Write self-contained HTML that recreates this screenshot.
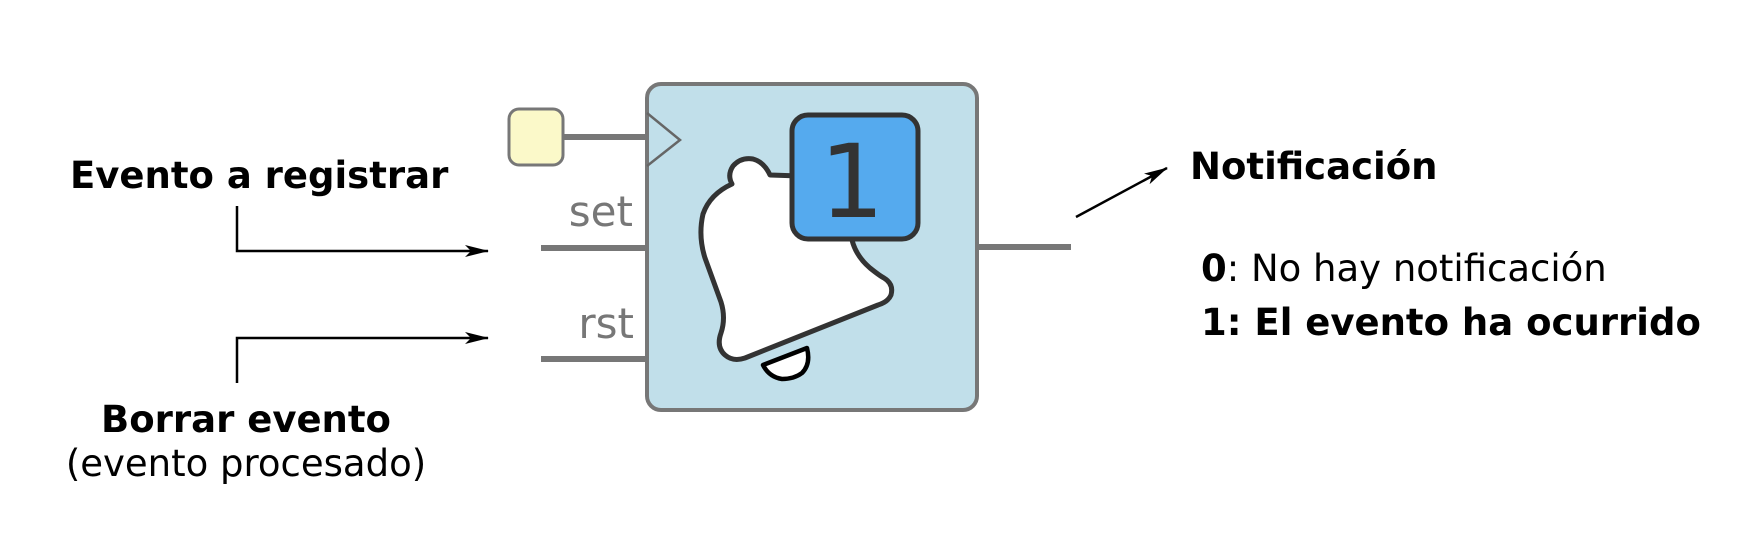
<!DOCTYPE html>
<html><head><meta charset="utf-8"><style>
html,body{margin:0;padding:0;background:#fff;}
svg{display:block;}
text{font-family:"DejaVu Sans","Liberation Sans",sans-serif;}
</style></head><body>
<svg width="1754" height="545" viewBox="0 0 1754 545" xmlns="http://www.w3.org/2000/svg">
<defs>
<marker id="ah" markerWidth="24" markerHeight="12" refX="23" refY="6" orient="auto" markerUnits="userSpaceOnUse">
<path d="M0,0 L24,6 L0,12 L6,6 Z" fill="#000"/>
</marker>
</defs>
<!-- wires -->
<line x1="563" y1="137" x2="647" y2="137" stroke="#777" stroke-width="6"/>
<line x1="541" y1="248" x2="647" y2="248" stroke="#777" stroke-width="6"/>
<line x1="541" y1="359" x2="647" y2="359" stroke="#777" stroke-width="6"/>
<line x1="977" y1="247" x2="1071" y2="247" stroke="#777" stroke-width="6"/>
<rect x="509" y="109" width="54" height="56" rx="10" fill="#fbf9c9" stroke="#777" stroke-width="3"/>
<!-- box -->
<rect x="647" y="84" width="330" height="326" rx="14" fill="#c1dfea" stroke="#777" stroke-width="4"/>
<polyline points="647,113 680,140 647,166" fill="none" stroke="#666" stroke-width="2.5"/>
<text x="633" y="226" font-size="42" fill="#777" text-anchor="end">set</text>
<text x="634" y="338" font-size="42" fill="#777" text-anchor="end">rst</text>
<!-- bell -->
<path d="M770,175 L800,176 L852,240 Q856,256 870,268 Q880,276 884,278 Q894,284 891,295 Q888,302 878,305 L745,358 Q733,362 725,355 Q716,347 721,333 Q726,318 721,302 Q713,280 705,258 Q698,236 703,214 Q710,194 732,184 Q727,175 733,166 Q741,157 753,159 Q764,162 770,175 Z" fill="#fff" stroke="#333" stroke-width="5" stroke-linejoin="round"/>
<path d="M763,365 L807,348 Q811,364 802,373 Q794,379 782,379 Q769,377 763,365 Z" fill="#fff" stroke="#000" stroke-width="4.5" stroke-linejoin="round"/>
<rect x="792" y="115" width="126" height="124" rx="16" fill="#55aaee" stroke="#333" stroke-width="5"/>
<text x="852" y="217" font-size="102" fill="#333" text-anchor="middle">1</text>
<!-- left labels & arrows -->
<text x="70" y="188" font-size="37" font-weight="bold" fill="#000">Evento a registrar</text>
<polyline points="237,206 237,251 488,251" fill="none" stroke="#000" stroke-width="2.5" marker-end="url(#ah)"/>
<polyline points="237,383 237,338 488,338" fill="none" stroke="#000" stroke-width="2.5" marker-end="url(#ah)"/>
<text x="246" y="432" font-size="37" font-weight="bold" fill="#000" text-anchor="middle">Borrar evento</text>
<text x="246" y="476" font-size="37" fill="#000" text-anchor="middle">(evento procesado)</text>
<!-- right -->
<line x1="1076" y1="217" x2="1167" y2="168" stroke="#000" stroke-width="2.5" marker-end="url(#ah)"/>
<text x="1190" y="179" font-size="37" font-weight="bold" fill="#000">Notificación</text>
<text x="1201" y="281" font-size="37" fill="#000"><tspan font-weight="bold">0</tspan>: No hay notificación</text>
<text x="1201" y="335" font-size="37" font-weight="bold" fill="#000">1: El evento ha ocurrido</text>
</svg>
</body></html>
